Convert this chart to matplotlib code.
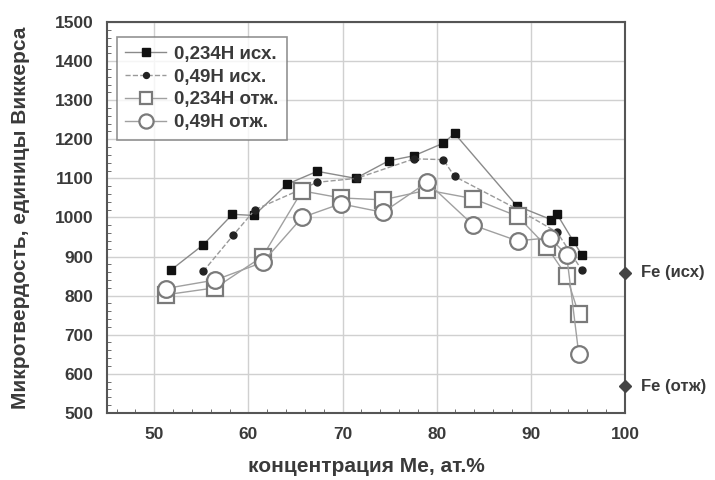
import numpy as np
import matplotlib.pyplot as plt
from matplotlib.ticker import MultipleLocator

plt.rcParams['font.family'] = ['Liberation Sans', 'DejaVu Sans']

# 0,234H исх (filled squares)
x_sq_isx = [51.8, 55.2, 58.3, 60.6, 64.1, 67.3, 71.4, 74.9, 77.6, 80.7, 81.9, 88.5, 92.2, 92.8, 94.5, 95.4]
y_sq_isx = [866, 930, 1008, 1005, 1085, 1118, 1100, 1145, 1158, 1190, 1215, 1030, 994, 1008, 940, 905]
# 0,49H исх (filled circles)
x_ci_isx = [55.2, 58.4, 60.7, 67.3, 71.5, 77.6, 80.7, 81.9, 88.5, 92.8, 95.4]
y_ci_isx = [862, 955, 1020, 1090, 1100, 1150, 1148, 1105, 1022, 962, 866]
# 0,234H отж (open squares)
x_sq_otj = [51.2, 56.5, 61.5, 65.7, 69.8, 74.3, 79.0, 83.9, 88.6, 91.7, 93.8, 95.1]
y_sq_otj = [802, 820, 900, 1068, 1050, 1045, 1070, 1048, 1003, 925, 850, 752]
# 0,49H отж (open circles)
x_ci_otj = [51.2, 56.5, 61.5, 65.7, 69.8, 74.3, 79.0, 83.9, 88.6, 92.0, 93.8, 95.1]
y_ci_otj = [818, 840, 885, 1000, 1035, 1013, 1090, 980, 940, 948, 905, 650]
# pure Fe reference values
fe_labels = ['Fe (исх)', 'Fe (отж)']
fe_y = [858, 568]

fig = plt.figure(figsize=(7.15, 4.8), dpi=100)
ax = fig.add_axes([0.150, 0.140, 0.724, 0.814])

ax.plot(x_sq_isx, y_sq_isx, '-s', color='#8a8a8a', lw=1.0, mfc='#111111', mec='#111111', ms=6,
        label='0,234H исх.')
ax.plot(x_ci_isx, y_ci_isx, '--o', color='#9a9a9a', lw=1.0, mfc='#222222', mec='#222222', ms=5,
        label='0,49H исх.')
ax.plot(x_sq_otj, y_sq_otj, '-s', color='#a0a0a0', lw=1.0, mfc='white', mec='#7a7a7a', mew=1.6, ms=11,
        label='0,234H отж.')
ax.plot(x_ci_otj, y_ci_otj, '-o', color='#a0a0a0', lw=1.0, mfc='white', mec='#7a7a7a', mew=1.6, ms=12,
        label='0,49H отж.')

ax.plot([100] * len(fe_y), fe_y, 'D', color='#444444', ms=6, clip_on=False, zorder=5)
for lab, yv in zip(fe_labels, fe_y):
    ax.text(101.7, yv, lab, va='center', ha='left', fontsize=12, fontweight='bold', color='#3a3a3a')

ax.set_xlim(45, 100)
ax.set_ylim(500, 1500)
ax.xaxis.set_major_locator(MultipleLocator(10))
ax.yaxis.set_major_locator(MultipleLocator(100))
ax.xaxis.set_minor_locator(MultipleLocator(2))
ax.yaxis.set_minor_locator(MultipleLocator(20))
ax.grid(True, which='major', color='#d0d0d0', lw=1.0)
ax.set_axisbelow(True)
ax.tick_params(which='both', direction='in', colors='#555555', labelcolor='#3a3a3a')
ax.tick_params(which='major', length=0, labelsize=12.5, pad=10)
ax.tick_params(which='minor', length=3)
for lbl in ax.get_xticklabels() + ax.get_yticklabels():
    lbl.set_fontweight('bold')
for sp in ax.spines.values():
    sp.set_color('#555555')
    sp.set_linewidth(1.5)

ax.set_xlabel('концентрация Ме, ат.%', fontsize=15, fontweight='bold', color='#3a3a3a', labelpad=11)
ax.set_ylabel('Микротвердость, единицы Виккерса', fontsize=15, fontweight='bold', color='#3a3a3a',
              labelpad=18)

leg = ax.legend(loc='upper left', bbox_to_anchor=(0.0, 0.985), frameon=True,
                fancybox=False, edgecolor='#777777', handlelength=2.2, borderpad=0.45,
                labelspacing=0.3, handletextpad=0.4, markerscale=0.85,
                prop={'weight': 'bold', 'size': 13.5})
leg.get_frame().set_linewidth(1.2)
for t in leg.get_texts():
    t.set_color('#3a3a3a')

fig.savefig('out.png', dpi=100)
